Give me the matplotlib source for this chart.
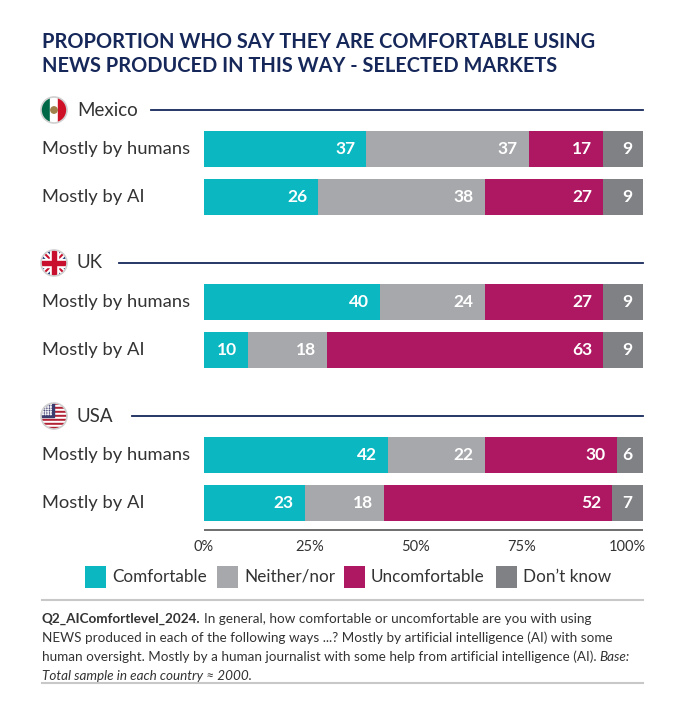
import matplotlib
matplotlib.use("Agg")
import matplotlib.pyplot as plt
from matplotlib.patches import Rectangle, Circle
import numpy as np

# ---------------- data ----------------
countries = ["Mexico", "UK", "USA"]
rows = ["Mostly by humans", "Mostly by AI"]
categories = ["Comfortable", "Neither/nor", "Uncomfortable", "Don\u2019t know"]
comfortable = [[37, 26], [40, 10], [42, 23]]
neither = [[37, 38], [24, 18], [22, 18]]
uncomfortable = [[17, 27], [27, 63], [30, 52]]
dont_know = [[9, 9], [9, 9], [6, 7]]
tick_labels = ["0%", "25%", "50%", "75%", "100%"]

colors = ["#0bb8c1", "#a7a8ab", "#ae1762", "#808185"]
NAVY = "#16275a"
TXT = "#333333"

plt.rcParams['font.family'] = ['Lato', 'DejaVu Sans']

W, H = 695, 702
fig = plt.figure(figsize=(W / 100, H / 100), dpi=100)

# background axes in pixel coordinates
ax0 = fig.add_axes([0, 0, 1, 1])
ax0.set_xlim(0, W)
ax0.set_ylim(H, 0)
ax0.axis("off")

# bar axes: x in percent, y in pixel units
bx0, bx1 = 204, 643
ax = fig.add_axes([bx0 / W, 0, (bx1 - bx0) / W, 1])
ax.set_xlim(0, 100)
ax.set_ylim(H, 0)
ax.axis("off")

# title
ax0.text(42, 42, "PROPORTION WHO SAY THEY ARE COMFORTABLE USING", fontsize=14.4,
         fontweight="bold", color=NAVY, va="center", ha="left")
ax0.text(42, 66, "NEWS PRODUCED IN THIS WAY - SELECTED MARKETS", fontsize=14.4,
         fontweight="bold", color=NAVY, va="center", ha="left")

group_top = [149, 302, 455]
row_gap = 48
header_off = 39
bar_h = 36
line_start = [151, 119, 132]


def flag(cx, cy, kind):
    r = 13
    clip = Circle((cx, cy), r, transform=ax0.transData)
    arts = []
    if kind == "Mexico":
        w = 2 * r / 3
        for i, c in enumerate(["#006847", "#ffffff", "#ce1126"]):
            arts.append(Rectangle((cx - r + i * w, cy - r), w, 2 * r, color=c, zorder=1))
        arts.append(Circle((cx, cy), 3.2, color="#a0804a", zorder=2))
    elif kind == "UK":
        arts.append(Rectangle((cx - r, cy - r), 2 * r, 2 * r, color="#012169", zorder=1))
        for (dx, dy) in [(1, 1), (1, -1)]:
            ln = ax0.plot([cx - dx * r, cx + dx * r], [cy - dy * r, cy + dy * r],
                          color="white", lw=4.5, solid_capstyle="butt", zorder=2)[0]
            ln.set_clip_path(clip)
            ln = ax0.plot([cx - dx * r, cx + dx * r], [cy - dy * r, cy + dy * r],
                          color="#c8102e", lw=1.5, solid_capstyle="butt", zorder=2.1)[0]
            ln.set_clip_path(clip)
        arts.append(Rectangle((cx - r, cy - 4), 2 * r, 8, color="white", zorder=3))
        arts.append(Rectangle((cx - 4, cy - r), 8, 2 * r, color="white", zorder=3))
        arts.append(Rectangle((cx - r, cy - 2.3), 2 * r, 4.6, color="#c8102e", zorder=4))
        arts.append(Rectangle((cx - 2.3, cy - r), 4.6, 2 * r, color="#c8102e", zorder=4))
    else:
        sh = 2 * r / 13
        for i in range(13):
            c = "#b22234" if i % 2 == 0 else "#ffffff"
            arts.append(Rectangle((cx - r, cy - r + i * sh), 2 * r, sh, color=c, zorder=1))
        arts.append(Rectangle((cx - r, cy - r), r * 1.0, 7 * sh, color="#3c3b6e", zorder=2))
        for sx in np.arange(cx - r + 2, cx - 1, 2.6):
            for sy in np.arange(cy - r + 1.6, cy - r + 7 * sh - 0.5, 2.4):
                arts.append(Circle((sx, sy), 0.45, color="white", zorder=3))
    for a in arts:
        ax0.add_patch(a)
        a.set_clip_path(clip)
    ax0.add_patch(Circle((cx, cy), r, fill=False, ec="#d0d0d0", lw=1.2, zorder=5))


for g, country in enumerate(countries):
    hy = group_top[g] - header_off
    flag(54, hy, country)
    ax0.text(77, hy, country, fontsize=13.5, color=TXT, va="center", ha="left")
    ax0.plot([line_start[g], bx1], [hy, hy], color=NAVY, lw=1.3)
    for r_i, row in enumerate(rows):
        y = group_top[g] + r_i * row_gap
        ax0.text(42, y, row, fontsize=13.2, color=TXT, va="center", ha="left")
        vals = [comfortable[g][r_i], neither[g][r_i], uncomfortable[g][r_i], dont_know[g][r_i]]
        left = 0
        for v, c in zip(vals, colors):
            ax.barh(y, v, left=left, height=bar_h, color=c, edgecolor="none")
            ax.annotate(str(v), (left + v, y), xytext=(-8, 0), textcoords="offset points",
                        ha="right", va="center", color="white", fontsize=12.5,
                        fontweight="bold")
            left += v

# axis line and ticks
ax.plot([0, 100], [530, 530], color="#555555", lw=1.2, solid_capstyle="butt")
tick_pos = np.linspace(0, 96.4, len(tick_labels))
for tp, tl in zip(tick_pos, tick_labels):
    ax.text(tp, 547, tl, ha="center", va="center", fontsize=10.5, color=TXT)

# legend
leg_sq = [85, 217, 344, 496]
for x, c, lab in zip(leg_sq, colors, categories):
    ax0.add_patch(Rectangle((x, 566), 21, 22, color=c, ec="none"))
    ax0.text(x + 27, 577, lab, fontsize=12.3, color=TXT, va="center", ha="left")

# separators
ax0.plot([42, 643], [600, 600], color="#c8c8c8", lw=1.5)
ax0.plot([42, 643], [683, 683], color="#c8c8c8", lw=1.5)

# footnote
fs = 9.75
fig.canvas.draw()
rend = fig.canvas.get_renderer()


def put(x, y, s, **kw):
    t = ax0.text(x, y, s, fontsize=fs, color=TXT, va="center", ha="left", **kw)
    bb = t.get_window_extent(renderer=rend)
    return x + bb.width  # pixels == data units here


x = put(42, 619, "Q2_AIComfortlevel_2024.", fontweight="bold")
put(x + 3, 619, "In general, how comfortable or uncomfortable are you with using")
put(42, 638, "NEWS produced in each of the following ways ...? Mostly by artificial intelligence (AI) with some")
x = put(42, 657, "human oversight. Mostly by a human journalist with some help from artificial intelligence (AI).")
put(x + 3, 657, "Base:", fontstyle="italic")
put(42, 676, "Total sample in each country \u2248 2000.", fontstyle="italic")

fig.savefig("out.png", dpi=100)
